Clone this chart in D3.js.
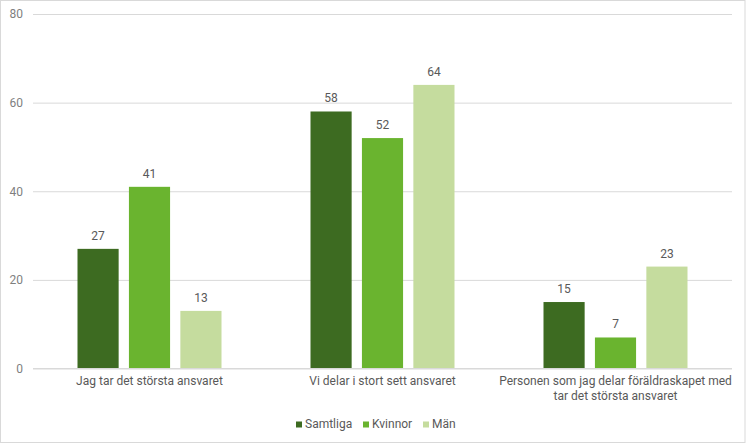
<!DOCTYPE html>
<html><head><meta charset="utf-8">
<script src="https://cdn.jsdelivr.net/npm/d3@7"></script>
<style>
html,body{margin:0;padding:0;background:#fff;}
text{font-family:Roboto,"Noto Sans",sans-serif;}
</style></head>
<body><svg id="c" width="746" height="444"></svg>
<script>
const categories = [["Jag tar det största ansvaret"],["Vi delar i stort sett ansvaret"],["Personen som jag delar föräldraskapet med","tar det största ansvaret"]];
const seriesNames = ["Samtliga","Kvinnor","Män"];
const samtliga = [27,58,15];
const kvinnor = [41,52,7];
const man = [13,64,23];
const colors = ["#3d6b21","#6ab42f","#c5dc9e"];
const yTicks = [0,20,40,60,80];

(function(){
const series = [samtliga,kvinnor,man];
const svg = d3.select("#c");
svg.append("rect").attr("x",0.5).attr("y",0.5).attr("width",744.5).attr("height",442).attr("fill","#fff").attr("stroke","#d9d9d9");

const pLeft=33, pRight=732, pTop=14, pBottom=368.5;
const y = d3.scaleLinear().domain([0,80]).range([pBottom,pTop]);
const x0 = d3.scaleBand().domain(d3.range(categories.length)).range([pLeft,pRight]);
const x1 = d3.scaleBand().domain(d3.range(seriesNames.length)).range([44.5,188.5]).paddingInner(0.2);

const yAxis = d3.axisLeft(y).tickValues(yTicks).tickSize(-(pRight-pLeft)).tickPadding(10);
const ga = svg.append("g").attr("transform",`translate(${pLeft},0)`).call(yAxis);
ga.select(".domain").remove();
ga.selectAll(".tick line").attr("stroke","#d9d9d9");
ga.selectAll(".tick text").attr("fill","#7f7f7f").attr("font-size","12px").attr("x",-10);

const g = svg.append("g");
categories.forEach((c,i)=>{
  series.forEach((s,j)=>{
    const xx = x0(i)+x1(j);
    g.append("rect").attr("x",xx).attr("y",y(s[i])).attr("width",x1.bandwidth()).attr("height",y(0)-y(s[i])).attr("fill",colors[j]);
    g.append("text").attr("x",xx+x1.bandwidth()/2).attr("y",y(s[i])-9).attr("text-anchor","middle").attr("font-size","12px").attr("fill","#595959").text(s[i]);
  });
  const t = g.append("text").attr("text-anchor","middle").attr("font-size","12px").attr("fill","#595959");
  c.forEach((line,k)=>{
    t.append("tspan").attr("x",x0(i)+x0.bandwidth()/2).attr("y",385+k*15).text(line);
  });
});
svg.append("line").attr("x1",pLeft).attr("x2",pRight).attr("y1",pBottom).attr("y2",pBottom).attr("stroke","#d9d9d9");

const legX = [296,363,423];
seriesNames.forEach((n,j)=>{
  svg.append("rect").attr("x",legX[j]).attr("y",421.5).attr("width",6).attr("height",6).attr("fill",colors[j]);
  svg.append("text").attr("x",legX[j]+9).attr("y",428).attr("font-size","12px").attr("fill","#595959").text(n);
});
})();
</script></body></html>
